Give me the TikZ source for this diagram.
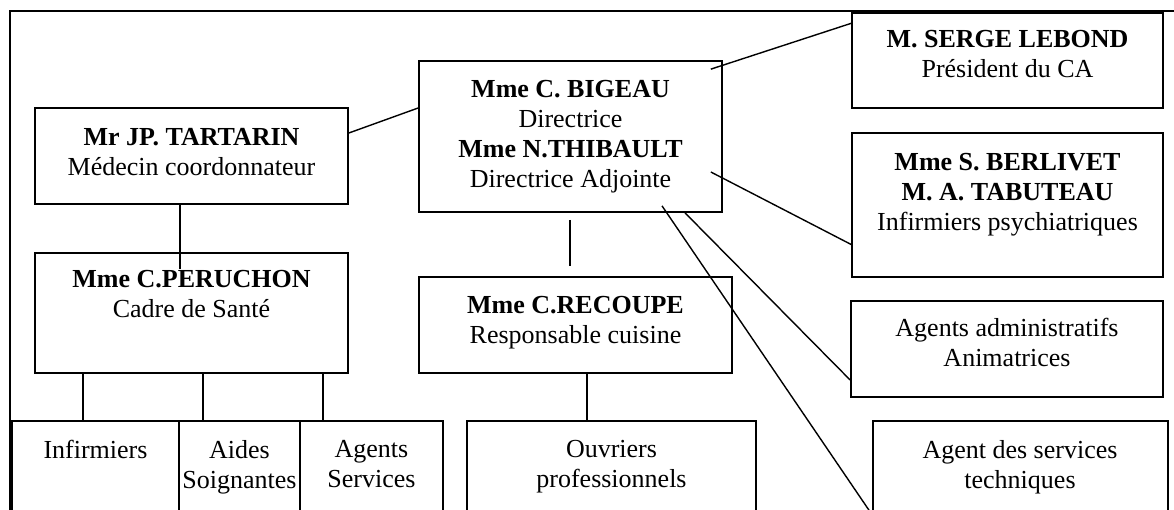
\documentclass[tikz,border=0pt]{standalone}
\usepackage{fontspec}
\setmainfont{Liberation Serif}
\usetikzlibrary{fit,calc}
\begin{document}
\begin{tikzpicture}[x=1pt,y=-1pt,
  box/.style={draw, line width=1.7pt, rectangle, inner sep=0pt},
  frame/.style={draw, line width=1.8pt, rectangle, inner sep=0pt},
  txt/.style={align=center, inner sep=0pt, anchor=north, font=\fontsize{26}{30}\selectfont},
  link/.style={line width=1.4pt}]
\useasboundingbox (0,0) rectangle (1174,510);
\clip (0,0) rectangle (1174,510);
\fill[white] (0,0) rectangle (1174,510);
\node[frame, fit={(10,11) (1300,620)}] (outer) {};
% boxes
\node[box, fit={(852,13) (1163,108)}] (serge) {};
\node[box, fit={(852,133) (1163,277)}] (berl) {};
\node[box, fit={(851,301) (1163,397)}] (admin) {};
\node[box, fit={(873,421) (1168,514)}] (tech) {};
\node[box, fit={(419,61) (722,212)}] (bigeau) {};
\node[box, fit={(35,108) (348,204)}] (tartarin) {};
\node[box, fit={(35,253) (348,373)}] (peruchon) {};
\node[box, fit={(419,277) (732,373)}] (recoupe) {};
\node[box, fit={(12,421) (179,514)}] (infirm) {};
\node[box, fit={(179,421) (300,514)}] (aides) {};
\node[box, fit={(300,421) (443,514)}] (agserv) {};
\node[box, fit={(467,421) (756,514)}] (ouvr) {};
% texts
\node[txt] (serge-t) at (1007.5,30) {\textbf{M. SERGE LEBOND}\\Président du CA};
\node[txt] (berl-t) at (1007.5,153) {\textbf{Mme S. BERLIVET}\\\textbf{M. A. TABUTEAU}\\Infirmiers psychiatriques};
\node[txt] (admin-t) at (1007,318) {Agents administratifs\\Animatrices};
\node[txt] (tech-t) at (1020,440) {Agent des services\\techniques};
\node[txt] (bigeau-t) at (570.5,80) {\textbf{Mme C. BIGEAU}\\Directrice\\\textbf{Mme N.THIBAULT}\\Directrice Adjointe};
\node[txt] (tartarin-t) at (191.5,128) {\textbf{Mr JP. TARTARIN}\\Médecin coordonnateur};
\node[txt] (peruchon-t) at (191.5,270) {\textbf{Mme C.PERUCHON}\\Cadre de Santé};
\node[txt] (recoupe-t) at (575.5,296) {\textbf{Mme C.RECOUPE}\\Responsable cuisine};
\node[txt] (infirm-t) at (95.5,440) {Infirmiers};
\node[txt] (aides-t) at (239.5,440) {Aides\\Soignantes};
\node[txt] (agserv-t) at (371.5,440) {Agents\\Services};
\node[txt] (ouvr-t) at (611.5,440) {Ouvriers\\professionnels};
% connectors
\draw[link] ($(tartarin.east)+(0,-23)$) -- ($(bigeau.west)+(0,-28.5)$);
\draw[link] ($(bigeau.north east)+(-12,9)$) -- ($(serge.west)+(1,-37.5)$);
\draw[link] ($(bigeau.east)+(-12,35.5)$) -- ($(berl.west)+(1,40)$);
\draw[link] ($(bigeau.south)+(114.5,0)$) -- ($(admin.west)+(0,31)$);
\draw[link] ($(bigeau.south)+(91.5,-7)$) -- (tech.south west);
\draw[link] ($(bigeau.south)+(-0.5,7)$) -- ($(recoupe.north)+(-5.5,-10)$);
\draw[link] ($(tartarin.south)+(-11.5,0)$) -- ($(peruchon.north)+(-11.5,17)$);
\draw[link] ($(peruchon.south)+(-108.5,0)$) -- ($(infirm.north)+(-12.5,0)$);
\draw[link] ($(peruchon.south)+(11.5,0)$) -- ($(aides.north)+(-36.5,0)$);
\draw[link] ($(peruchon.south)+(131.5,0)$) -- ($(agserv.north)+(-48.5,0)$);
\draw[link] ($(recoupe.south)+(11.5,0)$) -- ($(ouvr.north)+(-24.5,0)$);
\end{tikzpicture}
\end{document}
